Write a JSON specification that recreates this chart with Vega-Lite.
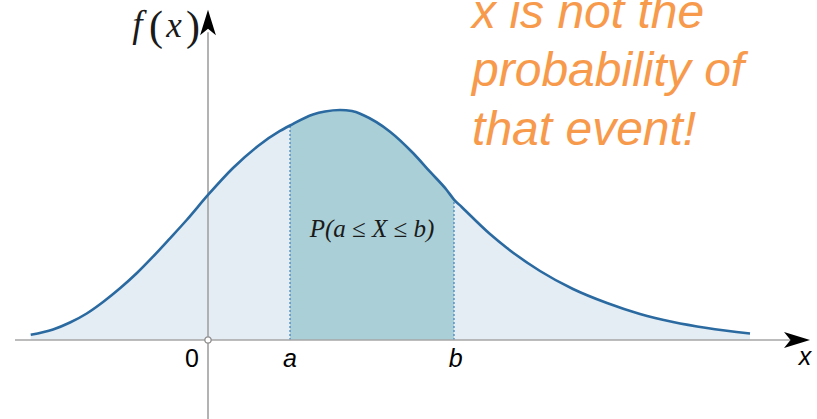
{
  "$schema": "https://vega.github.io/schema/vega-lite/v6.json",
  "width": 817,
  "height": 419,
  "autosize": {"type": "none"},
  "padding": 0,
  "background": "white",
  "config": {"view": {"stroke": null}},
  "data": {"values": [{"note": "annotation"}]},
  "datasets": {
    "density": [
      {"x": -2.162, "y": 0.009},
      {"x": -1.890, "y": 0.0183},
      {"x": -1.683, "y": 0.0304},
      {"x": -1.479, "y": 0.0461},
      {"x": -1.280, "y": 0.0661},
      {"x": -1.073, "y": 0.0899},
      {"x": -0.870, "y": 0.1160},
      {"x": -0.671, "y": 0.1449},
      {"x": -0.463, "y": 0.1769},
      {"x": -0.260, "y": 0.2087},
      {"x": 0.0, "y": 0.2522},
      {"x": 0.305, "y": 0.2991},
      {"x": 0.610, "y": 0.3374},
      {"x": 0.878, "y": 0.3635},
      {"x": 1.0, "y": 0.3730},
      {"x": 1.280, "y": 0.3922},
      {"x": 1.427, "y": 0.3974},
      {"x": 1.610, "y": 0.4000},
      {"x": 1.756, "y": 0.3983},
      {"x": 1.890, "y": 0.3913},
      {"x": 2.220, "y": 0.3623},
      {"x": 2.500, "y": 0.3252},
      {"x": 2.707, "y": 0.2927},
      {"x": 2.911, "y": 0.2609},
      {"x": 3.0, "y": 0.2443},
      {"x": 3.094, "y": 0.2313},
      {"x": 3.439, "y": 0.1843},
      {"x": 3.646, "y": 0.1600},
      {"x": 4.049, "y": 0.1200},
      {"x": 4.451, "y": 0.0887},
      {"x": 4.866, "y": 0.0643},
      {"x": 5.268, "y": 0.0452},
      {"x": 5.671, "y": 0.0313},
      {"x": 6.085, "y": 0.0209},
      {"x": 6.610, "y": 0.0113}
    ],
    "axes": [
      {"axis": "x", "x": -2.354, "y": 0},
      {"axis": "x", "x": 7.1, "y": 0},
      {"axis": "y", "x": 0, "y": -0.1374},
      {"axis": "y", "x": 0, "y": 0.535}
    ],
    "bounds": [
      {"bound": "a", "x": 1, "y": 0},
      {"bound": "a", "x": 1, "y": 0.3730},
      {"bound": "b", "x": 3, "y": 0},
      {"bound": "b", "x": 3, "y": 0.2443}
    ]
  },
  "layer": [
    {
      "data": {"name": "density"},
      "mark": {"type": "area", "color": "#e4ecf4", "interpolate": "monotone"},
      "encoding": {
        "x": {"field": "x", "type": "quantitative", "scale": {"domain": [-2.5366, 7.4268], "nice": false, "zero": false}, "axis": null},
        "y": {"field": "y", "type": "quantitative", "scale": {"domain": [-0.1374, 0.5913], "nice": false, "zero": false}, "axis": null}
      }
    },
    {
      "data": {"name": "density"},
      "transform": [{"filter": "datum.x >= 1 && datum.x <= 3"}],
      "mark": {"type": "area", "color": "#aacfd6", "interpolate": "monotone"},
      "encoding": {
        "x": {"field": "x", "type": "quantitative"},
        "y": {"field": "y", "type": "quantitative"}
      }
    },
    {
      "data": {"name": "bounds"},
      "mark": {"type": "line", "color": "#3f80bd", "strokeWidth": 1.2, "strokeDash": [2, 2]},
      "encoding": {
        "x": {"field": "x", "type": "quantitative"},
        "y": {"field": "y", "type": "quantitative"},
        "detail": {"field": "bound", "type": "nominal"}
      }
    },
    {
      "data": {"name": "axes"},
      "mark": {"type": "line", "color": "#a6a6a6", "strokeWidth": 1.7},
      "encoding": {
        "x": {"field": "x", "type": "quantitative"},
        "y": {"field": "y", "type": "quantitative"},
        "detail": {"field": "axis", "type": "nominal"}
      }
    },
    {
      "data": {"name": "density"},
      "mark": {"type": "line", "color": "#2a6aa0", "strokeWidth": 2.6, "interpolate": "monotone"},
      "encoding": {
        "x": {"field": "x", "type": "quantitative"},
        "y": {"field": "y", "type": "quantitative"}
      }
    },
    {
      "mark": {"type": "point", "shape": "M1,0 L-1,-0.62 L-0.5,0 L-1,0.62 Z", "filled": true, "color": "black", "size": 676, "opacity": 1},
      "encoding": {"x": {"datum": 7.183, "type": "quantitative"}, "y": {"datum": 0, "type": "quantitative"}}
    },
    {
      "mark": {"type": "point", "shape": "M0,-1 L-0.62,1 L0,0.5 L0.62,1 Z", "filled": true, "color": "black", "size": 650, "opacity": 1},
      "encoding": {"x": {"datum": 0, "type": "quantitative"}, "y": {"datum": 0.5522, "type": "quantitative"}}
    },
    {
      "mark": {"type": "point", "shape": "circle", "filled": true, "fill": "white", "stroke": "#8c8c8c", "strokeWidth": 1.3, "size": 40, "opacity": 1},
      "encoding": {"x": {"datum": 0, "type": "quantitative"}, "y": {"datum": 0, "type": "quantitative"}}
    },
    {
      "mark": {"type": "text", "text": "0", "font": "Liberation Sans", "fontSize": 25, "align": "right", "baseline": "alphabetic", "color": "black"},
      "encoding": {"x": {"datum": -0.11, "type": "quantitative"}, "y": {"datum": -0.047, "type": "quantitative"}}
    },
    {
      "mark": {"type": "text", "text": "a", "font": "Liberation Sans", "fontStyle": "italic", "fontSize": 25, "align": "center", "baseline": "alphabetic", "color": "black"},
      "encoding": {"x": {"datum": 1, "type": "quantitative"}, "y": {"datum": -0.047, "type": "quantitative"}}
    },
    {
      "mark": {"type": "text", "text": "b", "font": "Liberation Sans", "fontStyle": "italic", "fontSize": 25, "align": "center", "baseline": "alphabetic", "color": "black"},
      "encoding": {"x": {"datum": 3.02, "type": "quantitative"}, "y": {"datum": -0.047, "type": "quantitative"}}
    },
    {
      "mark": {"type": "text", "text": "x", "font": "Liberation Sans", "fontStyle": "italic", "fontSize": 25, "align": "center", "baseline": "alphabetic", "color": "black"},
      "encoding": {"x": {"datum": 7.28, "type": "quantitative"}, "y": {"datum": -0.0435, "type": "quantitative"}}
    },
    {
      "mark": {"type": "text", "text": "f", "font": "Liberation Serif", "fontStyle": "italic", "fontSize": 37, "align": "center", "baseline": "alphabetic", "color": "#1a1a1a"},
      "encoding": {"x": {"datum": -0.86, "type": "quantitative"}, "y": {"datum": 0.527, "type": "quantitative"}}
    },
    {
      "mark": {"type": "text", "text": "(", "font": "Liberation Serif", "fontSize": 42, "align": "center", "baseline": "alphabetic", "color": "#1a1a1a"},
      "encoding": {"x": {"datum": -0.634, "type": "quantitative"}, "y": {"datum": 0.522, "type": "quantitative"}}
    },
    {
      "mark": {"type": "text", "text": "x", "font": "Liberation Serif", "fontStyle": "italic", "fontSize": 35, "align": "center", "baseline": "alphabetic", "color": "#1a1a1a"},
      "encoding": {"x": {"datum": -0.415, "type": "quantitative"}, "y": {"datum": 0.527, "type": "quantitative"}}
    },
    {
      "mark": {"type": "text", "text": ")", "font": "Liberation Serif", "fontSize": 42, "align": "center", "baseline": "alphabetic", "color": "#1a1a1a"},
      "encoding": {"x": {"datum": -0.183, "type": "quantitative"}, "y": {"datum": 0.522, "type": "quantitative"}}
    },
    {
      "mark": {"type": "text", "text": "P(a ≤ X ≤ b)", "font": "Liberation Serif", "fontStyle": "italic", "fontSize": 25, "align": "center", "baseline": "alphabetic", "color": "#1a1a1a"},
      "encoding": {"x": {"datum": 2.0, "type": "quantitative"}, "y": {"datum": 0.179, "type": "quantitative"}}
    },
    {
      "mark": {"type": "text", "text": "x is not the", "font": "Liberation Sans", "fontStyle": "italic", "fontSize": 48, "align": "left", "baseline": "alphabetic", "color": "#f79a4b"},
      "encoding": {"x": {"datum": 3.22, "type": "quantitative"}, "y": {"datum": 0.5426, "type": "quantitative"}}
    },
    {
      "mark": {"type": "text", "text": "probability of", "font": "Liberation Sans", "fontStyle": "italic", "fontSize": 48, "align": "left", "baseline": "alphabetic", "color": "#f79a4b"},
      "encoding": {"x": {"datum": 3.22, "type": "quantitative"}, "y": {"datum": 0.4417, "type": "quantitative"}}
    },
    {
      "mark": {"type": "text", "text": "that event!", "font": "Liberation Sans", "fontStyle": "italic", "fontSize": 48, "align": "left", "baseline": "alphabetic", "color": "#f79a4b"},
      "encoding": {"x": {"datum": 3.22, "type": "quantitative"}, "y": {"datum": 0.3391, "type": "quantitative"}}
    }
  ]
}
